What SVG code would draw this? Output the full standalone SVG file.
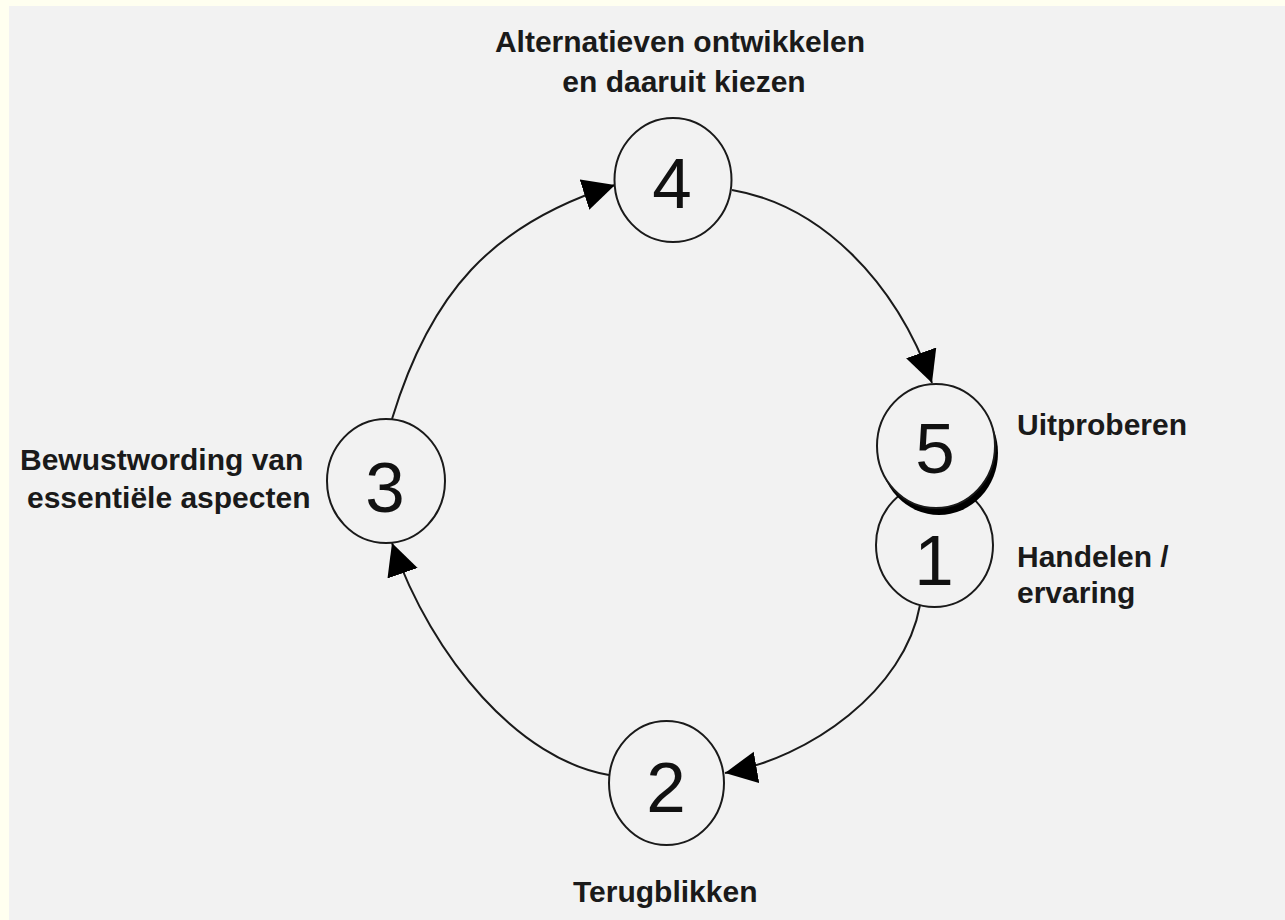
<svg xmlns="http://www.w3.org/2000/svg" width="1285" height="920" viewBox="0 0 1285 920">
  <style>
    .node { fill: #f2f2f2; stroke: #1a1a1a; stroke-width: 2; }
    .num { font-family: "Liberation Sans", Arial, sans-serif; font-size: 71px; fill: #111; text-anchor: middle; }
    .lbl { font-family: "Liberation Sans", Arial, sans-serif; font-size: 30px; font-weight: bold; fill: #1a1a1a; }
    .conn { fill: none; stroke: #1a1a1a; stroke-width: 2; }
  </style>
  <defs>
    <marker id="arrow" markerUnits="userSpaceOnUse" markerWidth="34" markerHeight="34" refX="32" refY="16" orient="auto">
      <path d="M0,0 L32,16 L0,32 z" fill="#000"/>
    </marker>
  </defs>
  <rect x="0" y="0" width="1285" height="920" fill="#fffff0"/>
  <rect x="9" y="6" width="1276" height="914" fill="#f2f2f2"/>

  <g id="connectors">
    <path class="conn" d="M392,419 C430,294 491,224 615,185" marker-end="url(#arrow)"/>
    <path class="conn" d="M732,190 C820,205 895,280 932,383" marker-end="url(#arrow)"/>
    <path class="conn" d="M920,605 C905,690 810,758 725,773" marker-end="url(#arrow)"/>
    <path class="conn" d="M609,775 C520,760 433,660 392,543" marker-end="url(#arrow)"/>
  </g>

  <g id="node-4">
    <ellipse class="node" cx="673" cy="180" rx="58.5" ry="62"/>
    <text class="num" x="672" y="208">4</text>
  </g>
  <g id="node-3">
    <ellipse class="node" cx="386" cy="481" rx="59" ry="62"/>
    <text class="num" x="385" y="512">3</text>
  </g>
  <g id="node-2">
    <ellipse class="node" cx="666.5" cy="783" rx="57.5" ry="62"/>
    <text class="num" x="666" y="812">2</text>
  </g>
  <g id="node-1">
    <ellipse class="node" cx="934.5" cy="545" rx="58.5" ry="62"/>
    <text class="num" x="934" y="585">1</text>
  </g>
  <g id="node-5">
    <ellipse cx="939" cy="453" rx="59" ry="62" fill="#000"/>
    <ellipse class="node" cx="936" cy="446" rx="59" ry="62"/>
    <text class="num" x="935" y="473">5</text>
  </g>

  <g id="labels">
    <text class="lbl" x="680" y="52" text-anchor="middle">Alternatieven ontwikkelen</text>
    <text class="lbl" x="684" y="92" text-anchor="middle">en daaruit kiezen</text>
    <text class="lbl" x="1017" y="435">Uitproberen</text>
    <text class="lbl" x="1017" y="567">Handelen /</text>
    <text class="lbl" x="1017" y="603">ervaring</text>
    <text class="lbl" x="20" y="470">Bewustwording van</text>
    <text class="lbl" x="27" y="508">essentiële aspecten</text>
    <text class="lbl" x="573" y="902">Terugblikken</text>
  </g>
</svg>
